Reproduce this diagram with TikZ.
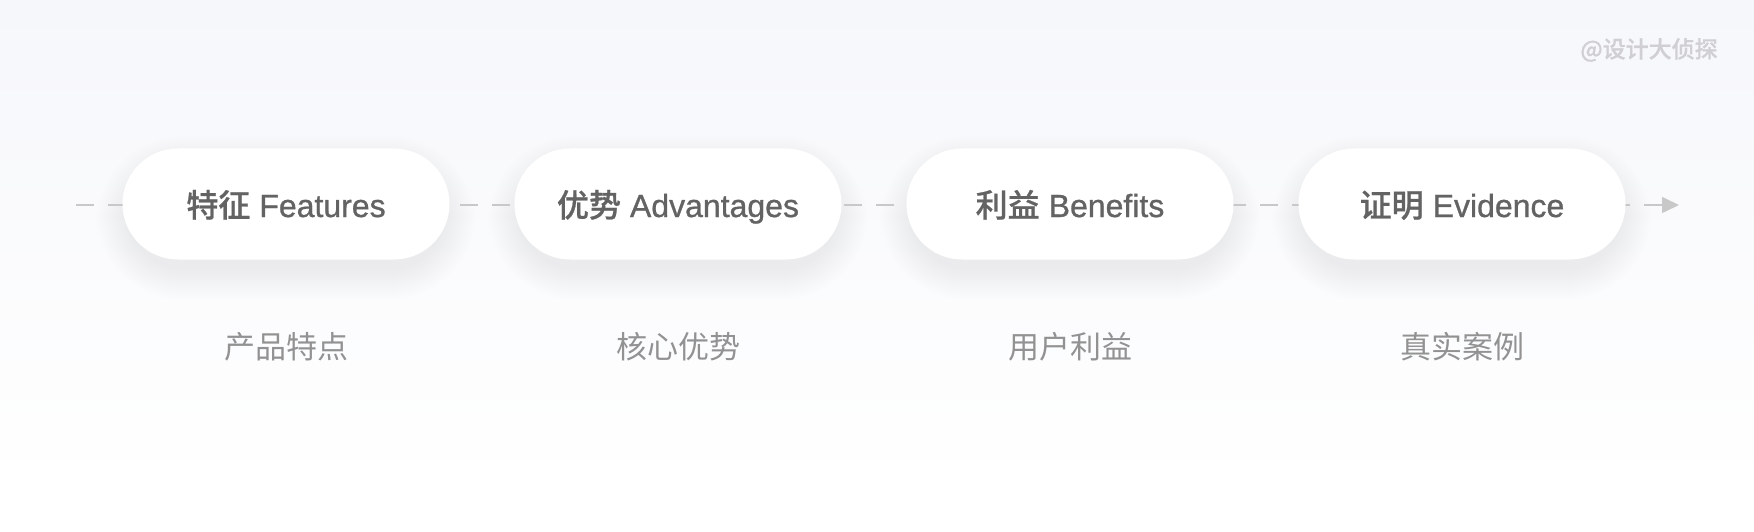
\documentclass[tikz,border=0pt]{standalone}
\usepackage{fontspec}
\newfontfamily\cjk{Noto Sans CJK SC}
\newfontfamily\cjkm[FakeBold=0.7]{Noto Sans CJK SC Medium}
\newfontfamily\latn[FakeBold=0.9]{Liberation Sans}
\usetikzlibrary{arrows.meta}
\definecolor{bgtop}{HTML}{F6F7FB}
\definecolor{pilltext}{HTML}{636363}
\definecolor{subtext}{HTML}{929292}
\definecolor{marktext}{HTML}{D0D0D4}
\definecolor{flowline}{HTML}{C8C8C8}
\newcommand{\pilltxt}[2]{{\cjkm #1}\hspace{9pt}{\latn #2}}
\tikzset{
  pill/.style={fill=white, minimum width=327pt, minimum height=111pt,
    rounded corners=55.5pt, inner sep=0pt, text=pilltext,
    text height=33pt, text depth=7pt,
    font=\fontsize{32}{38}\selectfont},
  sublabel/.style={text=subtext, inner sep=0pt, font=\cjk\fontsize{31}{37}\selectfont},
  flow/.style={draw=flowline, line width=1.5pt, dash pattern=on 18pt off 14pt,
    -{Triangle[length=17pt,width=16pt]}},
}
\begin{document}
\begin{tikzpicture}[x=1pt,y=-1pt]
\useasboundingbox (0,0) rectangle (1754,532);
\fill[white] (0,0) rectangle (1754,532);
\foreach \k in {0,...,47}{
  \pgfmathsetmacro{\pct}{100-\k*100/48}
  \fill[bgtop!\pct!white] (0,{\k*10}) rectangle (1754,{\k*10+10.6});
}
\foreach \n/\cx in {1/286, 2/678, 3/1070, 4/1462}{
  \coordinate (c\n) at (\cx,204);
  \foreach \j in {1,...,16}{
    \pgfmathsetmacro{\i}{2*\j}
    \fill[black, opacity=0.0042, rounded corners={55.5pt+\i pt}]
      ([shift={({-158-\i},{-50-\i+14})}]c\n) rectangle ([shift={({158+\i},{50+\i+14})}]c\n);
  }
}
\coordinate (ls) at (76,205);
\coordinate (le) at (1679,205);
\draw[flow] (ls) -- (le);
\node[pill] (p1) at (c1) {\pilltxt{特征}{Features}};
\node[pill] (p2) at (c2) {\pilltxt{优势}{Advantages}};
\node[pill] (p3) at (c3) {\pilltxt{利益}{Benefits}};
\node[pill] (p4) at (c4) {\pilltxt{证明}{Evidence}};
\node[sublabel] (s1) at (286,347) {产品特点};
\node[sublabel] (s2) at (678,347) {核心优势};
\node[sublabel] (s3) at (1070,347) {用户利益};
\node[sublabel] (s4) at (1462,347) {真实案例};
\node[text=marktext, inner sep=0pt, font=\cjkm\fontsize{23}{27}\selectfont] (wm) at (1649,50) {@设计大侦探};
\end{tikzpicture}
\end{document}
